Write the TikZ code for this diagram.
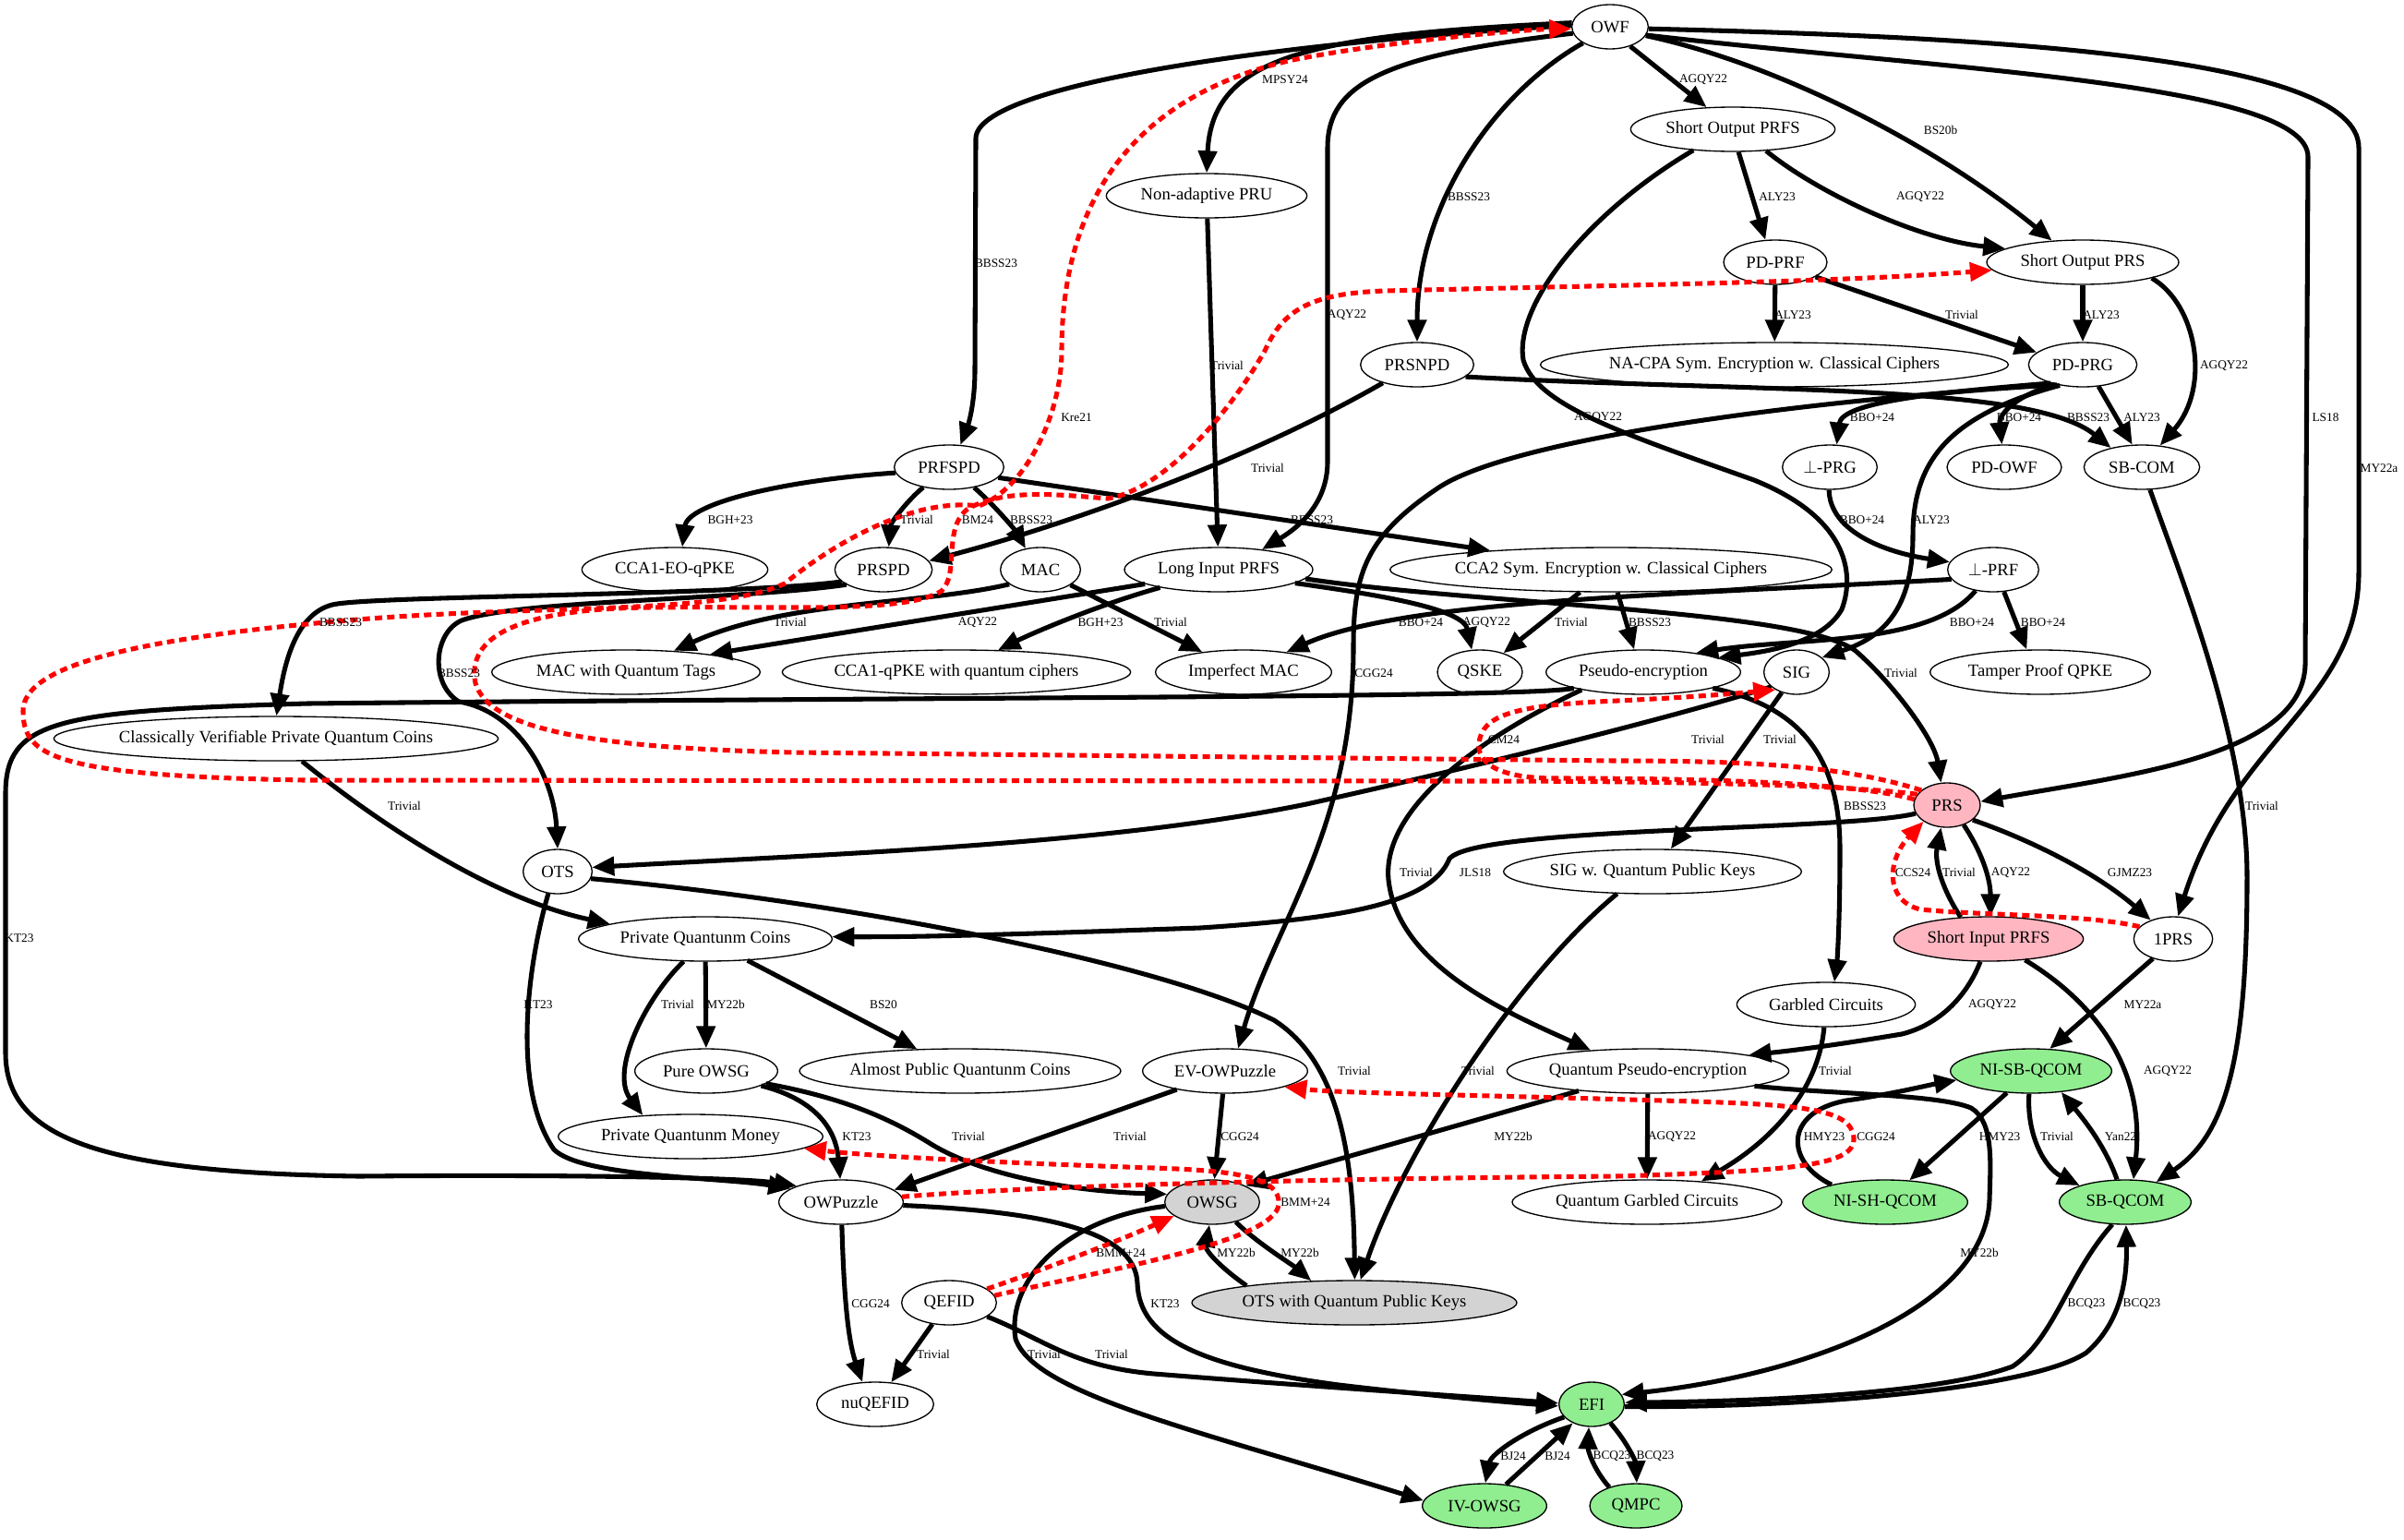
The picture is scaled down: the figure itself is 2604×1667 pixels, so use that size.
\documentclass[tikz,border=0pt]{standalone}
\usepackage{fontspec}
\setmainfont{Liberation Serif}
\usepackage{tikz}
\usetikzlibrary{shapes.geometric,arrows.meta}

\definecolor{pinkfill}{HTML}{FFB6C1}
\definecolor{greenfill}{HTML}{90EE90}
\definecolor{grayfill}{HTML}{D3D3D3}

\begin{document}
\begin{tikzpicture}[x=0.75pt,y=-0.75pt,
    nd/.style={ellipse,draw,line width=1pt,inner sep=0pt,minimum height=36pt,font=\fontsize{14}{16}\selectfont},
    edg/.style={line width=3.8pt,-{Triangle[length=18pt,width=15pt]}},
    redg/.style={edg,color=red,dash pattern=on 6pt off 4pt},
    lbl/.style={inner sep=0pt,font=\fontsize{10}{12}\selectfont}]
    \fill[white] (0,0) rectangle (2604,1667);
    \useasboundingbox (0,0) rectangle (2604,1667);

    % nodes, row by row
    \node[nd,minimum width=62pt] (owf) at (1744,29) {OWF};
    \node[nd,minimum width=166pt] (soprfs) at (1877,140) {Short Output PRFS};
    \node[nd,minimum width=163pt] (pru) at (1307,212) {Non-adaptive PRU};
    \node[nd,minimum width=84pt] (pdprf) at (1923,284) {PD-PRF};
    \node[nd,minimum width=156pt] (soprs) at (2256,284) {Short Output PRS};
    \node[nd,minimum width=92pt] (prsnpd) at (1535,395) {PRSNPD};
    \node[nd,minimum width=376pt] (nacpa) at (1922,395) {NA-CPA Sym. Encryption w. Classical Ciphers};
    \node[nd,minimum width=88pt] (pdprg) at (2256,395) {PD-PRG};
    \node[nd,minimum width=89pt] (prfspd) at (1028,506) {PRFSPD};
    \node[nd,minimum width=77pt] (bprg) at (1982,506) {$\perp$-PRG};
    \node[nd,minimum width=93pt] (pdowf) at (2171,506) {PD-OWF};
    \node[nd,minimum width=94pt] (sbcom) at (2320,506) {SB-COM};
    \node[nd,minimum width=151pt] (eoqpke) at (731,617) {CCA1-EO-qPKE};
    \node[nd,minimum width=79pt] (prspd) at (957,617) {PRSPD};
    \node[nd,minimum width=65pt] (mac) at (1127,617) {MAC};
    \node[nd,minimum width=153pt] (liprfs) at (1320,617) {Long Input PRFS};
    \node[nd,minimum width=358pt] (ccatwo) at (1745,617) {CCA2 Sym. Encryption w. Classical Ciphers};
    \node[nd,minimum width=74pt] (bprf) at (2159,617) {$\perp$-PRF};
    \node[nd,minimum width=218pt] (macqt) at (678,728) {MAC with Quantum Tags};
    \node[nd,minimum width=283pt] (ccaone) at (1036,728) {CCA1-qPKE with quantum ciphers};
    \node[nd,minimum width=143pt] (imac) at (1347,728) {Imperfect MAC};
    \node[nd,minimum width=69pt] (qske) at (1603,728) {QSKE};
    \node[nd,minimum width=158pt] (penc) at (1780,728) {Pseudo-encryption};
    \node[nd,minimum width=53pt] (sig) at (1946,728) {SIG};
    \node[nd,minimum width=179pt] (tpqpke) at (2210,728) {Tamper Proof QPKE};
    \node[nd,minimum width=361pt] (cvpqc) at (299,800) {Classically Verifiable Private Quantum Coins};
    \node[nd,fill=pinkfill,minimum width=54pt] (prs) at (2109,872) {PRS};
    \node[nd,minimum width=56pt] (ots) at (604,944) {OTS};
    \node[nd,minimum width=242pt] (sigqpk) at (1790,944) {SIG w. Quantum Public Keys};
    \node[nd,minimum width=206pt] (pqcoins) at (764,1017) {Private Quantunm Coins};
    \node[nd,fill=pinkfill,minimum width=154pt] (siprfs) at (2154,1017) {Short Input PRFS};
    \node[nd,minimum width=64pt] (oneprs) at (2354,1017) {1PRS};
    \node[nd,minimum width=145pt] (gc) at (1978,1088) {Garbled Circuits};
    \node[nd,minimum width=116pt] (powsg) at (765,1160) {Pure OWSG};
    \node[nd,minimum width=261pt] (apqc) at (1040,1160) {Almost Public Quantunm Coins};
    \node[nd,minimum width=134pt] (evowp) at (1327,1160) {EV-OWPuzzle};
    \node[nd,minimum width=229pt] (qpenc) at (1785,1160) {Quantum Pseudo-encryption};
    \node[nd,fill=greenfill,minimum width=131pt] (nisb) at (2200,1160) {NI-SB-QCOM};
    \node[nd,minimum width=215pt] (pqmoney) at (748,1231) {Private Quantunm Money};
    \node[nd,minimum width=101pt] (owp) at (911,1302) {OWPuzzle};
    \node[nd,fill=grayfill,minimum width=77pt] (owsg) at (1313,1302) {OWSG};
    \node[nd,minimum width=219pt] (qgc) at (1784,1302) {Quantum Garbled Circuits};
    \node[nd,fill=greenfill,minimum width=134pt] (nish) at (2042,1302) {NI-SH-QCOM};
    \node[nd,fill=greenfill,minimum width=107pt] (sbqcom) at (2302,1302) {SB-QCOM};
    \node[nd,minimum width=77pt] (qefid) at (1028,1411) {QEFID};
    \node[nd,fill=grayfill,minimum width=264pt] (otsqpk) at (1467,1411) {OTS with Quantum Public Keys};
    \node[nd,minimum width=95pt] (nuqefid) at (948,1521) {nuQEFID};
    \node[nd,fill=greenfill,minimum width=53pt] (efi) at (1724,1521) {EFI};
    \node[nd,fill=greenfill,minimum width=101pt] (ivowsg) at (1608,1631) {IV-OWSG};
    \node[nd,fill=greenfill,minimum width=75pt] (qmpc) at (1772,1631) {QMPC};

    % from OWF
    \draw[edg] (owf.-44) -- (soprfs.140);
    \draw[edg] (owf.-14) .. controls (1930,70) and (2100,160) .. (soprs.145);
    \draw[edg] (owf.174) .. controls (1420,38) and (1313,60) .. (pru.90);
    \draw[edg] (owf.178) .. controls (1400,45) and (1057,90) .. (1057,150) -- (1056,400) .. controls (1056,440) and (1048,462) .. (prfspd.63);
    \draw[edg] (owf.211) .. controls (1620,100) and (1535,220) .. (prsnpd.90);
    \draw[edg] (owf.190) .. controls (1500,60) and (1438,90) .. (1438,160) -- (1438,500) .. controls (1438,550) and (1400,575) .. (liprfs.25);
    \draw[edg] (owf.-13) .. controls (2100,75) and (2500,90) .. (2500,170) -- (2497,720) .. controls (2494,820) and (2300,840) .. (prs.6);
    \draw[edg] (owf.-3) .. controls (2150,40) and (2555,60) .. (2555,160) -- (2555,620) .. controls (2555,760) and (2420,800) .. (oneprs.78);

    % short output PRFS, PD-PRF, short output PRS
    \draw[edg] (soprfs.-76) -- (pdprf.114);
    \draw[edg] (soprfs.-33) .. controls (1970,210) and (2080,260) .. (soprs.170);
    \draw[edg] (soprfs.208) .. controls (1720,230) and (1640,330) .. (1650,390) .. controls (1665,440) and (1760,470) .. (1900,520) .. controls (2000,560) and (2010,620) .. (1995,660) .. controls (1975,695) and (1920,705) .. (penc.11);
    \draw[edg] (pdprf) -- (nacpa);
    \draw[edg] (pdprf.-20) -- (pdprg.165);
    \draw[edg] (soprs) -- (pdprg);
    \draw[edg] (soprs.-13) .. controls (2380,330) and (2395,420) .. (sbcom.50);

    % PD-PRG
    \draw[edg] (pdprg.210) .. controls (2100,425) and (1995,435) .. (bprg.73);
    \draw[edg] (pdprg.215) .. controls (2180,430) and (2165,450) .. (pdowf.96);
    \draw[edg] (pdprg.-54) -- (sbcom.113);
    \draw[edg] (pdprg.222) .. controls (2110,450) and (2072,500) .. (2072,580) .. controls (2072,660) and (2040,690) .. (sig.30);
    \draw[edg] (pdprg.218) .. controls (2000,430) and (1650,470) .. (1560,527) .. controls (1480,580) and (1466,620) .. (1466,700) .. controls (1466,900) and (1380,1000) .. (evowp.60);

    % bot-PRG, bot-PRF
    \draw[edg] (bprg.-92) .. controls (1982,575) and (2040,598) .. (bprf.170);
    \draw[edg] (bprf.193) .. controls (1800,645) and (1520,650) .. (imac.25);
    \draw[edg] (bprf.230) .. controls (2090,700) and (1950,690) .. (penc.20);
    \draw[edg] (bprf.-64) -- (tpqpke.121);

    % PRSNPD, PRU, PRFSPD
    \draw[edg] (prsnpd.-14) .. controls (1900,425) and (2200,415) .. (sbcom.148);
    \draw[edg] (prsnpd.208) .. controls (1350,500) and (1150,570) .. (prspd.11);
    \draw[edg] (pru) -- (liprfs);
    \draw[edg] (prfspd.186) .. controls (850,520) and (745,545) .. (eoqpke.72);
    \draw[edg] (prfspd.218) .. controls (985,540) and (965,565) .. (prspd.77);
    \draw[edg] (prfspd.-39) .. controls (1080,550) and (1100,575) .. (mac.125);
    \draw[edg] (prfspd.-12) -- (ccatwo.171);

    % PRSPD
    \draw[edg] (prspd.196) .. controls (800,645) and (400,645) .. (360,655) .. controls (320,665) and (308,720) .. (cvpqc.89);
    \draw[edg] (prspd.202) .. controls (800,650) and (560,650) .. (500,672) .. controls (470,685) and (465,740) .. (497,760) .. controls (560,770) and (600,840) .. (ots.90);

    % MAC, long input PRFS, CCA2
    \draw[edg] (mac.205) .. controls (1000,655) and (850,650) .. (macqt.24);
    \draw[edg] (liprfs.191) -- (macqt.12);
    \draw[edg] (liprfs.197) .. controls (1190,655) and (1120,685) .. (ccaone.28);
    \draw[edg] (mac.-27) -- (imac.154);
    \draw[edg] (liprfs.-10) .. controls (1500,645) and (1585,660) .. (qske.110);
    \draw[edg] (liprfs.-6) .. controls (1600,655) and (1950,660) .. (2010,705) .. controls (2050,740) and (2095,800) .. (prs.105);
    \draw[edg] (ccatwo.216) -- (qske.39);
    \draw[edg] (ccatwo.-74) -- (penc.112);

    % pseudo-encryption, SIG
    \draw[edg] (penc.193) .. controls (1660,756) and (1000,755) .. (333,762) .. controls (60,770) and (6,780) .. (6,860) -- (6,1140) .. controls (6,1230) and (100,1270) .. (389,1274) .. controls (600,1272) and (800,1275) .. (owp.160);
    \draw[edg] (penc.196) .. controls (1600,800) and (1490,880) .. (1505,960) .. controls (1520,1050) and (1640,1100) .. (qpenc.160);
    \draw[edg] (penc.-13) .. controls (1950,765) and (1993,820) .. (1993,920) .. controls (1993,1000) and (1990,1040) .. (gc.70);
    \draw[edg] (sig.210) .. controls (1800,780) and (1600,830) .. (1415,871) .. controls (1200,915) and (900,925) .. (ots.7);
    \draw[edg] (sig.234) -- (sigqpk.51);

    % PRS, short input PRFS, 1PRS
    \draw[edg] (prs.195) .. controls (2000,900) and (1600,895) .. (1570,930) .. controls (1550,980) and (1450,995) .. (1300,1005) .. controls (1100,1012) and (1000,1015) .. (pqcoins.1);
    \draw[edg] (prs.-50) .. controls (2145,920) and (2156,950) .. (siprfs.85);
    \draw[edg] (siprfs.142) .. controls (2105,965) and (2095,935) .. (prs.-105);
    \draw[edg] (prs.-30) .. controls (2200,910) and (2270,945) .. (oneprs.140);
    \draw[edg] (oneprs.224) -- (nisb.50);
    \draw[edg] (siprfs.250) .. controls (2130,1080) and (2100,1110) .. (2060,1120) .. controls (2000,1130) and (1950,1137) .. (qpenc.9);
    \draw[edg] (siprfs.-30) .. controls (2260,1080) and (2325,1150) .. (sbqcom.70);
    \draw[edg] (sbcom.-70) .. controls (2360,620) and (2434,800) .. (2434,950) .. controls (2434,1150) and (2410,1230) .. (sbqcom.33);

    % coins and OTS
    \draw[edg] (pqcoins) -- (powsg);
    \draw[edg] (pqcoins.226) .. controls (700,1080) and (660,1160) .. (pqmoney.156);
    \draw[edg] (pqcoins.-27) -- (apqc.153);
    \draw[edg] (cvpqc.-41) .. controls (420,900) and (540,975) .. (pqcoins.171);
    \draw[edg] (ots.247) .. controls (570,1050) and (555,1180) .. (600,1245) .. controls (630,1275) and (780,1275) .. (owp.165);
    \draw[edg] (ots.-12) .. controls (900,975) and (1250,1040) .. (1380,1105) .. controls (1450,1150) and (1466,1250) .. (otsqpk.89);
    \draw[edg] (sigqpk.212) .. controls (1640,1060) and (1520,1250) .. (otsqpk.75);

    % puzzles and OWSG
    \draw[edg] (powsg.-15) .. controls (880,1190) and (905,1220) .. (owp.92);
    \draw[edg] (powsg.-12) .. controls (920,1190) and (970,1215) .. (1010,1240) .. controls (1060,1270) and (1150,1290) .. (owsg.170);
    \draw[edg] (evowp.201) -- (owp.13);
    \draw[edg] (evowp) -- (owsg);
    \draw[edg] (qpenc.196) -- (owsg.26);
    \draw[edg] (qpenc) -- (qgc);
    \draw[edg] (qpenc.-8) .. controls (1980,1185) and (2100,1185) .. (2135,1200) .. controls (2160,1215) and (2156,1260) .. (2155,1300) .. controls (2150,1420) and (1950,1490) .. (efi.18);
    \draw[edg] (gc.-95) .. controls (1970,1180) and (1920,1235) .. (qgc.21);

    % commitments
    \draw[edg] (nish.162) .. controls (1935,1260) and (1930,1205) .. (2000,1192) .. controls (2050,1185) and (2090,1175) .. (nisb.187);
    \draw[edg] (nisb.222) -- (nish.42);
    \draw[edg] (nisb.-95) .. controls (2195,1230) and (2215,1265) .. (sbqcom.160);
    \draw[edg] (sbqcom.110) .. controls (2280,1240) and (2255,1210) .. (nisb.-35);
    \draw[edg] (sbqcom.240) .. controls (2240,1380) and (2225,1450) .. (2180,1480) .. controls (2100,1510) and (1900,1518) .. (efi.3);
    \draw[edg] (efi.-4) .. controls (1950,1525) and (2200,1505) .. (2260,1465) .. controls (2300,1430) and (2304,1380) .. (sbqcom.-88);

    % EFI and bottom row
    \draw[edg] (efi.-45) .. controls (1765,1565) and (1772,1585) .. (qmpc.88);
    \draw[edg] (qmpc.145) .. controls (1725,1590) and (1720,1570) .. (efi.-97);
    \draw[edg] (efi.205) .. controls (1650,1550) and (1615,1575) .. (ivowsg.88);
    \draw[edg] (ivowsg.45) -- (efi.225);
    \draw[edg] (owsg.185) .. controls (1150,1320) and (1090,1390) .. (1100,1450) .. controls (1120,1510) and (1300,1550) .. (ivowsg.175);
    \draw[edg] (qefid.-20) .. controls (1130,1450) and (1160,1480) .. (1250,1488) .. controls (1400,1500) and (1550,1510) .. (efi.178);
    \draw[edg] (owp.-3) .. controls (1120,1312) and (1230,1330) .. (1232,1390) .. controls (1234,1450) and (1300,1480) .. (1450,1500) .. controls (1550,1512) and (1650,1520) .. (efi.183);
    \draw[edg] (owp.-88) .. controls (914,1400) and (918,1450) .. (nuqefid.120);
    \draw[edg] (qefid.232) -- (nuqefid.54);
    \draw[edg] (owsg.-40) .. controls (1360,1345) and (1400,1370) .. (otsqpk.153);
    \draw[edg] (otsqpk.171) .. controls (1325,1375) and (1305,1355) .. (owsg.-97);

    % separations
    \draw[redg] (prs.160) .. controls (2000,850) and (1800,846) .. (1600,846) -- (330,845) .. controls (60,840) and (25,820) .. (25,770) .. controls (25,720) and (150,690) .. (400,670) .. controls (600,655) and (780,665) .. (850,632) .. controls (920,575) and (1000,540) .. (1060,548) .. controls (1110,530) and (1150,450) .. (1150,380) .. controls (1150,250) and (1200,110) .. (1400,65) .. controls (1500,45) and (1650,32) .. (owf.183);
    \draw[redg] (prs.150) .. controls (2000,830) and (1900,824) .. (1750,824) -- (860,815) .. controls (640,810) and (530,790) .. (515,740) .. controls (505,690) and (560,660) .. (700,658) .. controls (850,656) and (980,665) .. (1020,640) .. controls (1040,620) and (1020,570) .. (1050,550) .. controls (1090,530) and (1140,535) .. (1200,540) .. controls (1260,530) and (1330,450) .. (1370,380) .. controls (1390,335) and (1420,318) .. (1500,315) .. controls (1800,308) and (2000,305) .. (soprs.185);
    \draw[redg] (prs.170) .. controls (2000,845) and (1800,843) .. (1680,843) .. controls (1620,842) and (1600,825) .. (1602,805) .. controls (1605,775) and (1640,765) .. (1730,760) .. controls (1820,756) and (1870,752) .. (sig.220);
    \draw[redg] (oneprs.160) .. controls (2260,990) and (2150,992) .. (2080,985) .. controls (2040,975) and (2045,930) .. (prs.215);
    \draw[redg] (qefid.20) .. controls (1130,1375) and (1210,1345) .. (owsg.200);
    \draw[redg] (qefid.9) .. controls (1200,1375) and (1380,1345) .. (1385,1305) .. controls (1388,1275) and (1340,1268) .. (1250,1265) .. controls (1100,1260) and (950,1253) .. (pqmoney.-6);
    \draw[redg] (owp.5) .. controls (1150,1282) and (1500,1276) .. (1750,1274) .. controls (1950,1268) and (2010,1262) .. (2008,1232) .. controls (2005,1200) and (1950,1196) .. (1800,1192) .. controls (1600,1186) and (1450,1184) .. (evowp.-15);

    % edge labels
    \foreach \x/\y/\t [count=\i] in {
        1845/86/AGQY22, 2102/141/BS20b, 1392/86/MPSY24, 1079/285/BBSS23, 1591/213/BBSS23,
        1459/341/AQY22, 2519/452/LS18, 2577/507/MY22a, 1925/213/ALY23, 2080/213/AGQY22,
        1731/452/AGQY22, 1942/341/ALY23, 2125/341/Trivial, 2276/341/ALY23, 2409/396/AGQY22,
        2028/452/BBO+24, 2187/452/BBO+24, 2262/452/BBSS23, 2320/452/ALY23, 1329/396/Trivial,
        1166/452/Kre21, 1373/507/Trivial, 791/563/BGH+23, 993/563/Trivial, 1059/563/BM24,
        1117/563/BBSS23, 1421/563/BBSS23, 2017/563/BBO+24, 2092/563/ALY23, 1488/729/CGG24,
        369/674/BBSS23, 856/674/Trivial, 1059/674/AQY22, 1192/674/BGH+23, 1268/674/Trivial,
        1539/674/BBO+24, 1610/674/AGQY22, 1702/674/Trivial, 1787/674/BBSS23, 2136/674/BBO+24,
        2213/674/BBO+24, 497/729/BBSS23, 2059/729/Trivial, 1629/801/CM24, 1850/801/Trivial,
        1928/801/Trivial, 438/873/Trivial, 2020/873/BBSS23, 2450/873/Trivial, 1534/945/Trivial,
        1598/945/JLS18, 2072/945/CCS24, 2122/945/Trivial, 2178/945/AQY22, 2307/945/GJMZ23,
        21/1016/KT23, 583/1088/KT23, 734/1088/Trivial, 786/1088/MY22b, 957/1088/BS20,
        2158/1088/AGQY22, 2321/1088/MY22a, 1467/1160/Trivial, 1601/1160/Trivial, 1988/1160/Trivial,
        2348/1160/AGQY22, 928/1231/KT23, 1049/1231/Trivial, 1224/1231/Trivial, 1343/1231/CGG24,
        1639/1231/MY22b, 1811/1231/AGQY22, 1976/1231/HMY23, 2032/1231/CGG24, 2166/1231/HMY23,
        2228/1231/Trivial, 2297/1231/Yan22, 1414/1302/BMM+24, 1214/1357/BMM+24, 1339/1357/MY22b,
        1408/1357/MY22b, 2144/1357/MY22b, 943/1412/CGG24, 1262/1412/KT23, 2260/1412/BCQ23,
        2320/1412/BCQ23, 1011/1467/Trivial, 1131/1467/Trivial, 1204/1467/Trivial, 1639/1577/BJ24,
        1687/1577/BJ24, 1746/1577/BCQ23, 1793/1577/BCQ23} {
        \node[lbl] (lb\i) at (\x,\y) {\t};
    }
\end{tikzpicture}
\end{document}
